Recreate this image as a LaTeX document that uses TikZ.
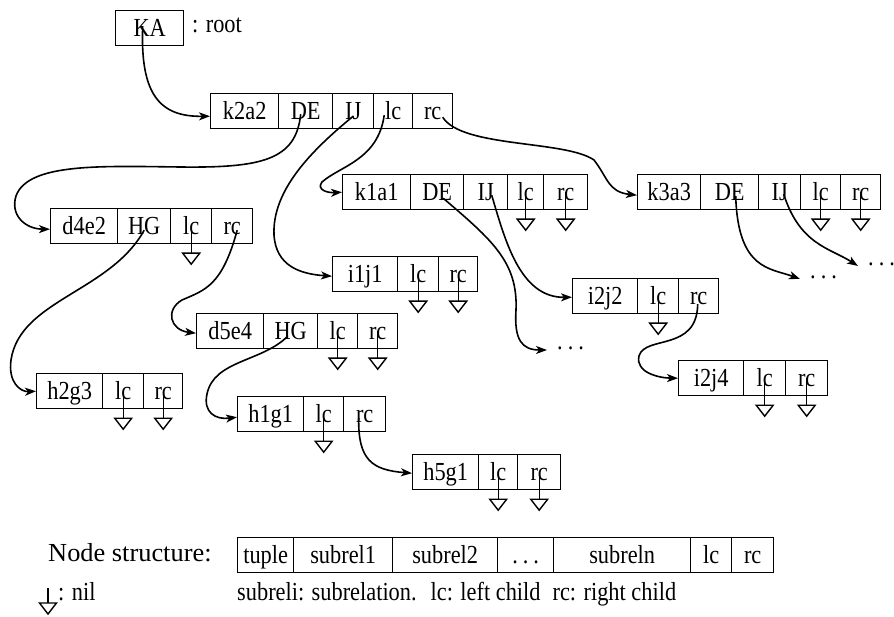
\documentclass[tikz,border=0pt]{standalone}
\usepackage{fontspec}
\setmainfont[FakeStretch=0.86]{Liberation Serif}
\usetikzlibrary{arrows.meta,calc}
\tikzset{
  txt/.style={font=\fontsize{26}{28}\selectfont},
  cellbox/.style={txt, draw, line width=1.4pt, minimum height=35pt, inner sep=0pt,
    text height=20pt, text depth=3pt, anchor=north west},
  conn/.style={line width=1.6pt, -{Stealth[length=11pt,width=8pt,inset=3pt]}},
  lbl/.style={txt, inner sep=0pt},
  dotsn/.style={txt, inner ysep=0pt, inner xsep=10pt},
  nilp/.pic={\draw[line width=1.4pt] (0,0) -- (0,27);
             \draw[line width=1.4pt, line join=miter] (-8.5,27) -- (8.5,27) -- (0,38) -- cycle;}
}
\newcommand\mkcell[5]{\pgfmathsetmacro\cellwd{#3-#2}\node[cellbox,minimum width=\cellwd pt] (#1) at (#2,#4) {#5};}
\newcommand\mkrow[2]{\foreach \xa/\xb/\nm/\tx in {#2} {\mkcell{\nm}{\xa}{\xb}{#1}{\tx}}}
\newcommand\nilat[1]{\pic at (#1.center) {nilp};}
\begin{document}
\begin{tikzpicture}[x=1pt,y=-1pt]
\useasboundingbox (0,0) rectangle (894,617);
% root
\mkcell{KA}{115}{183}{10}{KA}
\node[lbl, anchor=base west] (root) at (192,33) {: root};
% rows
\mkrow{93}{210/278/k2a2/k2a2, 278/332/k2a2DE/DE, 332/373/k2a2IJ/IJ, 373/412/k2a2lc/lc, 412/452/k2a2rc/rc}
\mkrow{174}{342/410/k1a1/k1a1, 410/463/k1a1DE/DE, 463/507/k1a1IJ/IJ, 507/543/k1a1lc/lc, 543/587/k1a1rc/rc}
\mkrow{174}{637/700/k3a3/k3a3, 700/758/k3a3DE/DE, 758/800/k3a3IJ/IJ, 800/840/k3a3lc/lc, 840/880/k3a3rc/rc}
\mkrow{208}{50/117/d4e2/d4e2, 117/170/d4e2HG/HG, 170/211/d4e2lc/lc, 211/252/d4e2rc/rc}
\mkrow{256}{332/397/i1j1/i1j1, 397/438/i1j1lc/lc, 438/477/i1j1rc/rc}
\mkrow{278}{572/637/i2j2/i2j2, 637/678/i2j2lc/lc, 678/718/i2j2rc/rc}
\mkrow{313}{196/263/d5e4/d5e4, 263/317/d5e4HG/HG, 317/357/d5e4lc/lc, 357/397/d5e4rc/rc}
\mkrow{360}{678/743/i2j4/i2j4, 743/785/i2j4lc/lc, 785/827/i2j4rc/rc}
\mkrow{373}{36/102/h2g3/h2g3, 102/143/h2g3lc/lc, 143/182/h2g3rc/rc}
\mkrow{396}{237/303/h1g1/h1g1, 303/343/h1g1lc/lc, 343/385/h1g1rc/rc}
\mkrow{454}{412/478/h5g1/h5g1, 478/517/h5g1lc/lc, 517/560/h5g1rc/rc}
% dots
\node[dotsn, anchor=base west] (dots1) at (547,350) {.\kern5pt.\kern5pt.};
\node[dotsn, anchor=base west] (dots2) at (800,279) {.\kern5pt.\kern5pt.};
\node[dotsn, anchor=base west] (dots3) at (858,266) {.\kern5pt.\kern5pt.};
% nil pointers
\foreach \c in {k1a1lc,k1a1rc,k3a3lc,k3a3rc,d4e2lc,i1j1lc,i1j1rc,i2j2lc,d5e4lc,d5e4rc,i2j4lc,i2j4rc,h2g3lc,h2g3rc,h1g1lc,h5g1lc,h5g1rc} {\nilat{\c}}
% connectors
\draw[conn] ([shift={(-7,-2)}]KA.center) .. controls (140,95) and (160,117) .. ([yshift=-5pt]k2a2.west);
\draw[conn] ([shift={(-5,3)}]k2a2DE.center) .. controls (296,160) and (262,168) .. (180,167)
   .. controls (100,166) and (28,163) .. (16,196) .. controls (10,215) and (25,229) .. ([yshift=-3pt]d4e2.west);
\draw[conn] ([shift={(0,5)}]k2a2IJ.center) .. controls (312,150) and (272,190) .. (274,235)
   .. controls (276,266) and (300,274) .. ([yshift=-2pt]i1j1.west);
\draw[conn] ([shift={(-9,4)}]k2a2lc.center) .. controls (378,160) and (340,166) .. (322,182)
   .. controls (316,190) and (328,193) .. (k1a1.west);
\draw[conn] ([shift={(10,6)}]k2a2rc.center) .. controls (462,148) and (565,140) .. (594,160)
   .. controls (608,178) and (608,192) .. ([yshift=-3pt]k3a3.west);
\draw[conn] ([shift={(0,4)}]d4e2HG.center) .. controls (110,292) and (20,300) .. (11,360)
   .. controls (8,382) and (20,392) .. (h2g3.west);
\draw[conn] ([shift={(5,4)}]d4e2rc.center) .. controls (222,286) and (205,290) .. (182,300)
   .. controls (165,310) and (170,330) .. ([yshift=-2pt]d5e4.west);
\draw[conn] ([shift={(-3,5)}]d5e4HG.center) .. controls (262,362) and (214,360) .. (207,394)
   .. controls (203,412) and (215,420) .. ([yshift=-3pt]h1g1.west);
\draw[conn] ([shift={(-6,4)}]h1g1rc.center) .. controls (358,460) and (372,470) .. ([yshift=-1pt]h5g1.west);
\draw[conn] ([shift={(6,6)}]k1a1DE.center) .. controls (492,240) and (518,262) .. (516,310)
   .. controls (514,340) and (522,350) .. (dots1.base west);
\draw[conn] ([shift={(6,3)}]k1a1IJ.center) .. controls (505,240) and (520,298) .. ([yshift=-1pt]i2j2.west);
\draw[conn] ([shift={(-1,8)}]i2j2rc.center) .. controls (697,352) and (645,335) .. (639,356)
   .. controls (635,373) and (660,378) .. (i2j4.west);
\draw[conn] ([shift={(6,4)}]k3a3DE.center) .. controls (738,270) and (770,268) .. (dots2.base west);
\draw[conn] ([shift={(4,2)}]k3a3IJ.center) .. controls (800,245) and (830,248) .. (dots3.base west);
% legend
\node[lbl, anchor=base west, xscale=1.18, transform shape] (nslbl) at (48,561) {Node structure:};
\mkrow{537}{237/293/lgtuple/tuple, 293/392/lgs1/subrel1, 392/497/lgs2/subrel2, 497/553/lgdots/.\kern5pt.\kern5pt., 553/690/lgsn/subreln, 690/731/lglc/lc, 731/773/lgrc/rc}
\coordinate (nilleg) at (48,588);
\draw[line width=1.4pt] (nilleg) -- ++(0,15) coordinate (niltri);
\draw[line width=1.4pt, line join=miter] ([xshift=-8.5pt]niltri) -- ([xshift=8.5pt]niltri) -- ([yshift=-11pt]niltri) -- cycle;
\node[lbl, anchor=base west] (nillbl) at (58,600) {: nil};
\node[lbl, anchor=base west] (expl) at (237,600) {subreli: subrelation.\hspace{14pt}lc: left child\hspace{12pt}rc: right child};
\end{tikzpicture}
\end{document}
